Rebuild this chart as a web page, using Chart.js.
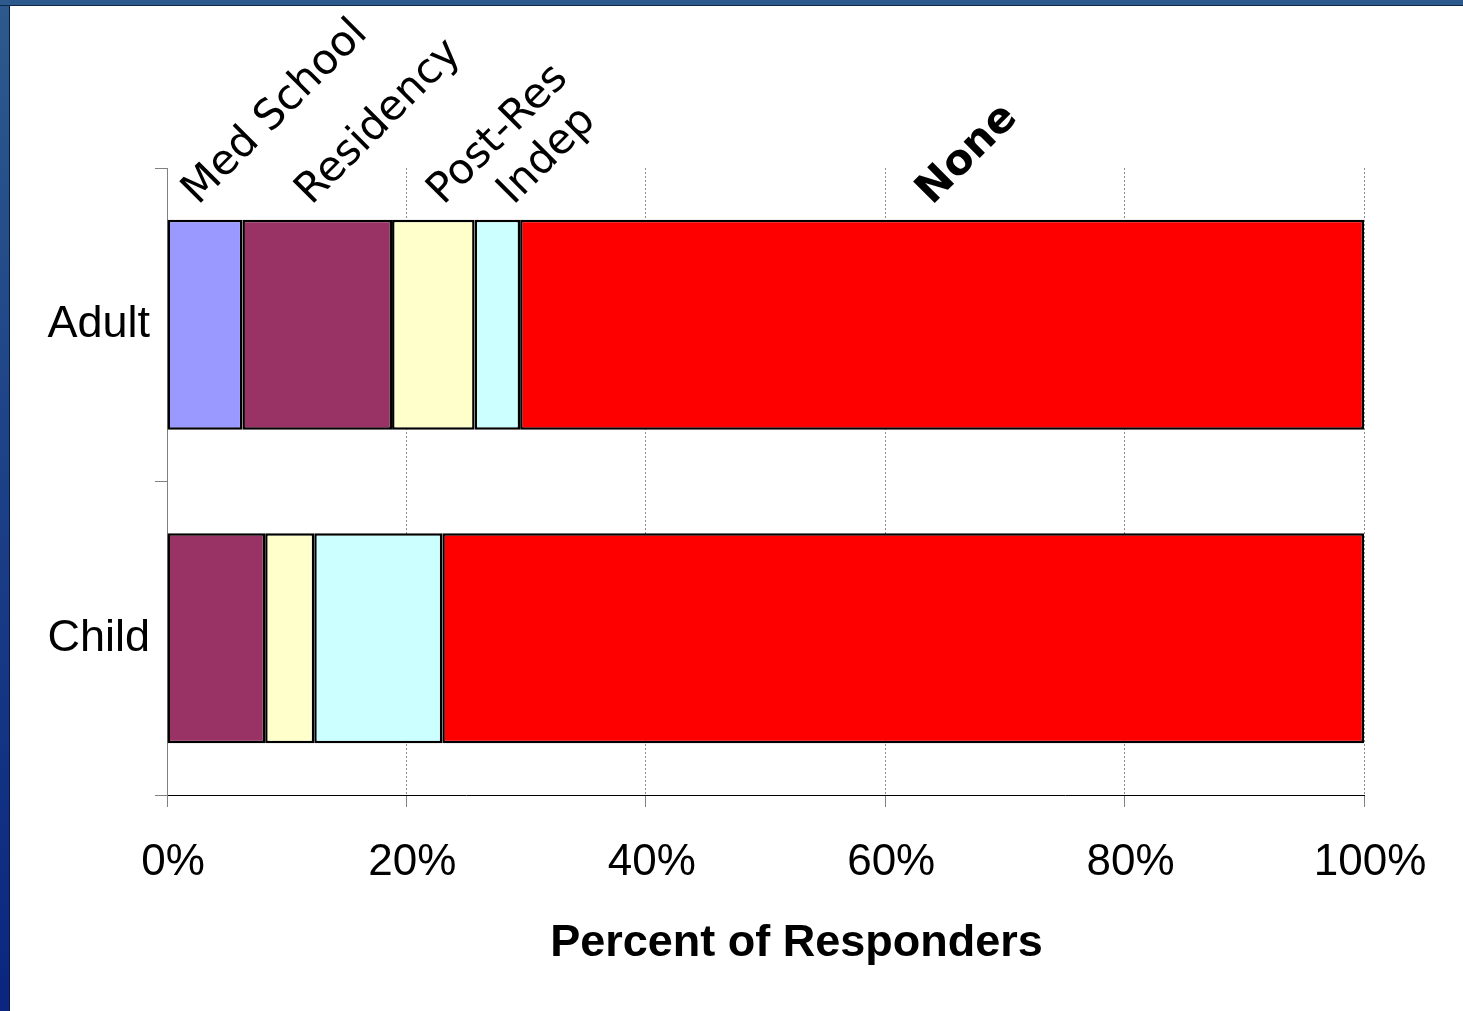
<!DOCTYPE html>
<html>
<head>
<meta charset="utf-8">
<script src="https://cdn.jsdelivr.net/npm/chart.js@4/dist/chart.umd.min.js"></script>
<style>
  html, body { margin: 0; padding: 0; background: #ffffff; overflow: hidden; }
  #frameLeft { position: absolute; left: 0; top: 0; width: 9px; height: 1011px;
    background: linear-gradient(#2c5a8d, #0b2580); border-right: 1px solid #0a1a3c; }
  #frameTop { position: absolute; left: 0; top: 0; width: 1463px; height: 5px;
    background: #2c5a8d; border-bottom: 1px solid #0f2748; }
  #chart { position: absolute; left: 0; top: 0; }
</style>
</head>
<body>
<div id="frameLeft"></div>
<div id="frameTop"></div>
<canvas id="chart" width="1463" height="1011"></canvas>
<script>
// Training stage at which responders first had the experience (percent of responders)
const categories = ['Adult', 'Child'];
const seriesNames = ['Med School', 'Residency', 'Post-Res', 'Indep', 'None'];
const medSchool = [6.3, 0];
const residency = [12.5, 8.2];
const postRes   = [6.9, 4.1];
const indep     = [3.8, 10.7];
const none      = [70.5, 77.0];
const xTicks    = [0, 20, 40, 60, 80, 100];

const seriesValues = [medSchool, residency, postRes, indep, none];
const seriesColors = ['#9999ff', '#993366', '#ffffcc', '#ccffff', '#ff0000'];
// nudges (px) of each rotated series name from the centre of its Adult segment
const nameNudge = [-7, -6, 10, 16, -10];

const seriesNamePlugin = {
  id: 'seriesNames',
  afterDatasetsDraw(chart) {
    const ctx = chart.ctx;
    ctx.save();
    ctx.fillStyle = '#000';
    ctx.textAlign = 'left';
    ctx.textBaseline = 'alphabetic';
    chart.data.datasets.forEach((ds, i) => {
      const bar = chart.getDatasetMeta(i).data[0];
      const cx = (bar.x + bar.base) / 2 + nameNudge[i];
      const cy = bar.y - bar.height / 2 - 14;
      ctx.save();
      ctx.translate(cx, cy);
      ctx.rotate(-Math.PI / 4);
      ctx.font = (ds.label === 'None' ? 'bold ' : '') + '42px "DejaVu Sans"';
      ctx.fillText(ds.label, 0, 0);
      ctx.restore();
    });
    ctx.restore();
  },
  afterDraw(chart) {
    const ctx = chart.ctx;
    const xs = chart.scales.x;
    ctx.save();
    ctx.fillStyle = '#000';
    ctx.font = 'bold 45px "Liberation Sans", Arial, sans-serif';
    ctx.textAlign = 'center';
    ctx.textBaseline = 'alphabetic';
    ctx.fillText('Percent of Responders', (xs.left + xs.right) / 2 + 31, 956);
    ctx.restore();
  }
};

new Chart(document.getElementById('chart'), {
  type: 'bar',
  data: {
    labels: categories,
    datasets: seriesValues.map((vals, i) => ({
      label: seriesNames[i],
      data: vals,
      backgroundColor: seriesColors[i],
      borderColor: '#000000',
      borderWidth: 2.5,
      borderSkipped: false,
      barPercentage: 0.67,
      categoryPercentage: 1.0
    }))
  },
  options: {
    indexAxis: 'y',
    responsive: false,
    animation: false,
    devicePixelRatio: 1,
    layout: { padding: { top: 168, right: 99, left: 0, bottom: 0 } },
    plugins: {
      legend: { display: false },
      tooltip: { enabled: false }
    },
    scales: {
      x: {
        type: 'linear',
        stacked: true,
        min: 0,
        max: 100,
        afterBuildTicks(scale) { scale.ticks = xTicks.map(v => ({ value: v })); },
        afterFit(scale) { scale.height = 216; },
        ticks: {
          callback: v => v + '%',
          color: '#000',
          font: { family: '"Liberation Sans", Arial, sans-serif', size: 44 },
          padding: 29,
          labelOffset: 6,
          maxRotation: 0
        },
        grid: {
          color: '#8c8c8c',
          lineWidth: 1,
          tickLength: 12,
          tickColor: '#808080',
          tickBorderDash: []
        },
        border: { display: true, color: '#000', width: 1, dash: [2, 2] }
      },
      y: {
        type: 'category',
        stacked: true,
        offset: true,
        afterFit(scale) { scale.width = 167; },
        ticks: {
          color: '#000',
          font: { family: '"Liberation Sans", Arial, sans-serif', size: 45 },
          padding: 5
        },
        grid: {
          offset: true,
          drawOnChartArea: false,
          drawTicks: true,
          tickLength: 12,
          color: '#808080',
          tickColor: '#808080'
        },
        border: { display: true, color: '#808080', width: 1 }
      }
    }
  },
  plugins: [seriesNamePlugin]
});
</script>
</body>
</html>
